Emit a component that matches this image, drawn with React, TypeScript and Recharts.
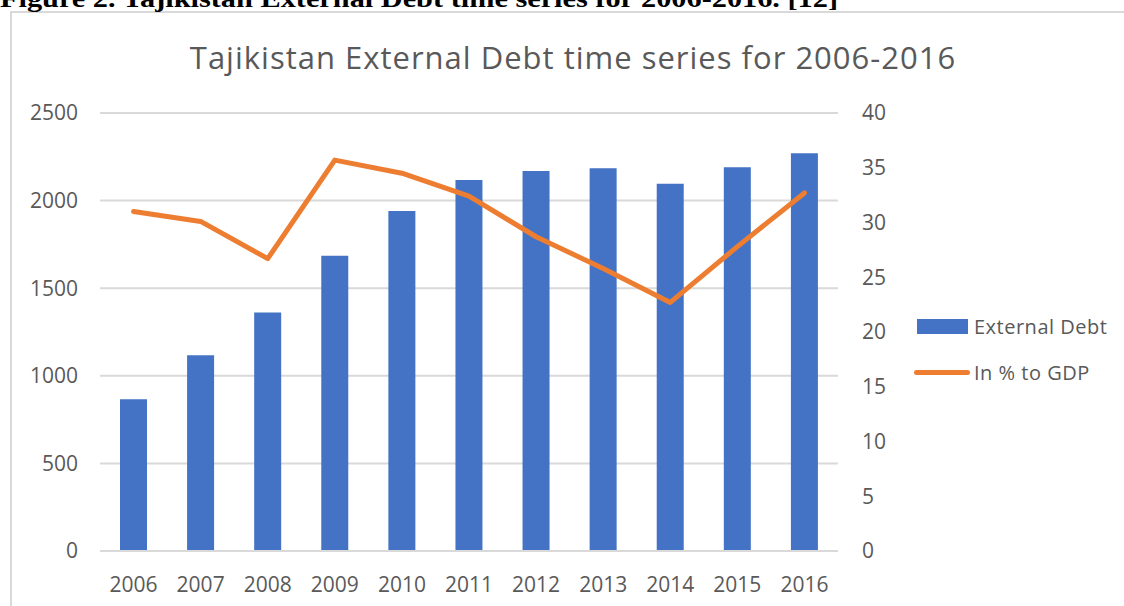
import React from "react";
import { ComposedChart, Bar, Line, XAxis, YAxis, CartesianGrid } from "recharts";

const years = ["2006", "2007", "2008", "2009", "2010", "2011", "2012", "2013", "2014", "2015", "2016"];
const externalDebt = [866, 1117, 1362, 1685, 1940, 2117, 2169, 2184, 2096, 2191, 2270];
const pctGDP = [31.0, 30.1, 26.7, 35.7, 34.5, 32.4, 28.7, 25.8, 22.7, 27.8, 32.7];
const leftTicks = [0, 500, 1000, 1500, 2000, 2500];
const rightTicks = [0, 5, 10, 15, 20, 25, 30, 35, 40];
const seriesNames = ["External Debt", "In % to GDP"];

const data = years.map((y, i) => ({ year: y, debt: externalDebt[i], pct: pctGDP[i] }));

const FONT = "'Open Sans', 'Noto Sans', sans-serif";
const GREY = "#595959";
const BLUE = "#4472C4";
const ORANGE = "#ED7D31";

export default function App() {
  return (
    <div style={{ position: "absolute", left: 0, top: 0, width: 1124, height: 606, overflow: "hidden", background: "#fff" }}>
      <div
        style={{
          position: "absolute",
          left: 10,
          top: 11,
          width: 1200,
          height: 700,
          border: "2px solid #d9d9d9",
          boxSizing: "border-box",
        }}
      />
      <svg width={1124} height={606} style={{ position: "absolute", left: 0, top: 0 }}>
        <text
          x={0}
          y={7}
          style={{ fontFamily: "'Liberation Serif', 'Times New Roman', Times, serif", fontWeight: 700 }}
          fontSize={25}
          fill="#000"
          textLength={838}
          lengthAdjust="spacingAndGlyphs"
        >
          Figure 2. Tajikistan External Debt time series for  2006-2016. [12]
        </text>
        <text
          x={573}
          y={69}
          textAnchor="middle"
          fontFamily={FONT}
          fontSize={31}
          letterSpacing={1}
          fill={GREY}
        >
          Tajikistan External Debt time series for 2006-2016
        </text>
      </svg>
      <div style={{ position: "absolute", left: 0, top: 0 }}>
        <ComposedChart
          width={1124}
          height={606}
          data={data}
          margin={{ top: 113, right: 226, bottom: 15, left: 20 }}
        >
          <CartesianGrid vertical={false} stroke="#d9d9d9" strokeWidth={2} yAxisId="left" />
          <XAxis
            dataKey="year"
            axisLine={{ stroke: "#d9d9d9", strokeWidth: 2 }}
            tickLine={false}
            tickSize={0}
            tickMargin={26}
            height={40}
            tick={{ fontFamily: FONT, fontSize: 21, fill: GREY }}
            interval={0}
          />
          <YAxis
            yAxisId="left"
            orientation="left"
            domain={[0, 2500]}
            ticks={leftTicks}
            width={80}
            axisLine={false}
            tickLine={false}
            tickSize={0}
            tickMargin={22}
            tick={{ fontFamily: FONT, fontSize: 21, fill: GREY }}
          />
          <YAxis
            yAxisId="right"
            orientation="right"
            domain={[0, 40]}
            ticks={rightTicks}
            width={60}
            axisLine={false}
            tickLine={false}
            tickSize={0}
            tickMargin={24}
            tick={{ fontFamily: FONT, fontSize: 21, fill: GREY, textAnchor: "start" }}
          />
          <Bar yAxisId="left" dataKey="debt" name={seriesNames[0]} fill={BLUE} barSize={27} isAnimationActive={false} />
          <Line
            yAxisId="right"
            dataKey="pct"
            name={seriesNames[1]}
            stroke={ORANGE}
            strokeWidth={5}
            strokeLinecap="round"
            strokeLinejoin="round"
            dot={false}
            activeDot={false}
            type="linear"
            isAnimationActive={false}
          />
        </ComposedChart>
      </div>
      <div style={{ position: "absolute", left: 914, top: 314, fontFamily: FONT, fontSize: 20, letterSpacing: 0.5, color: GREY }}>
        <div style={{ display: "flex", alignItems: "center", height: 24 }}>
          <div style={{ width: 51, height: 15, background: BLUE, marginLeft: 3, marginRight: 6 }} />
          <span>{seriesNames[0]}</span>
        </div>
        <div style={{ display: "flex", alignItems: "center", height: 24, marginTop: 22 }}>
          <div style={{ width: 56, height: 5, borderRadius: 3, background: ORANGE, marginRight: 4 }} />
          <span>{seriesNames[1]}</span>
        </div>
      </div>
    </div>
  );
}
